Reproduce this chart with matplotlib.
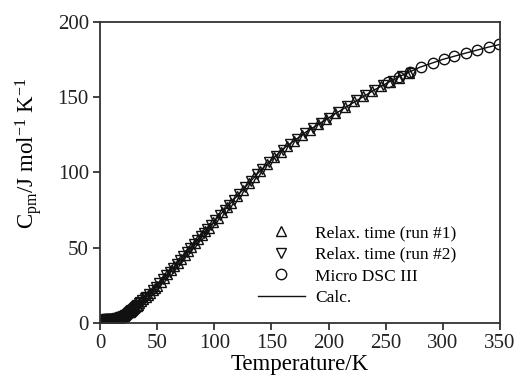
import matplotlib
matplotlib.use("Agg")
import matplotlib.pyplot as plt
from matplotlib.lines import Line2D

# data
run1_T = [2, 3, 4, 5, 6, 7, 8, 9, 10, 11, 12, 13, 14, 15, 16, 17, 18, 19, 20,
          21, 22, 23, 24, 25, 26, 27, 28, 29, 30, 31, 32, 33, 34, 36, 38, 40,
          42, 44, 46, 48, 50, 53, 56, 59, 62, 65, 68, 71, 74, 77, 80, 83, 86,
          89, 92, 95, 99, 103, 107, 111, 115, 120, 125, 130, 135, 140, 146,
          152, 158, 164, 170, 177, 184, 191, 198, 206, 214, 222, 230, 238,
          246, 254, 262, 270]
run1_Cp = [2.0, 2.0, 2.0, 2.0, 2.1, 2.1, 2.2, 2.2, 2.3, 2.3, 2.4, 2.5, 2.6,
           2.8, 3.0, 3.2, 3.5, 3.8, 4.2, 4.6, 5.1, 5.6, 6.1, 6.7, 7.3, 7.9,
           8.5, 9.2, 9.9, 10.6, 11.3, 12.0, 12.7, 14.1, 15.5, 17.0, 18.5,
           20.0, 21.6, 23.0, 24.5, 27.0, 29.6, 32.2, 34.8, 37.4, 40.0, 42.6,
           45.2, 47.9, 50.5, 53.0, 55.6, 58.2, 60.8, 63.3, 66.7, 70.0, 73.4,
           76.7, 80.0, 84.3, 88.6, 92.8, 97.0, 101.0, 105.8, 110.0, 113.9,
           117.6, 121.1, 124.9, 128.6, 132.1, 135.6, 139.6, 143.6, 147.4,
           151.0, 154.3, 157.4, 160.4, 163.3, 166.0]

run2_T = [2, 3, 4, 5, 6, 7, 8, 9, 10, 11.5, 12.5, 13.5, 14.5, 15.5, 16.5,
          17.5, 18.5, 19.5, 20.5, 21.5, 22.5, 23.5, 24.5, 25.5, 26.5, 27.5,
          28.5, 29.5, 30.5, 31.5, 32.5, 34, 35, 37, 39, 40, 43, 46, 49, 52,
          55, 58, 61, 64, 67, 70, 73, 76, 79,
          82, 85, 88, 91, 94, 97, 101, 105, 109, 113, 117, 122, 127, 132, 137,
          142, 148, 154, 160, 166, 172, 179, 186, 193, 200, 208, 216, 224, 232,
          240, 248, 256, 264, 272]
run2_Cp = [2.0, 2.0, 2.0, 2.1, 2.1, 2.1, 2.2, 2.2, 2.3, 2.4, 2.5, 2.6, 2.7,
           2.9, 3.1, 3.4, 3.7, 4.0, 4.4, 4.9, 5.3, 5.8, 6.4, 7.0, 7.6, 8.2,
           8.9, 9.6, 10.3, 11.0, 11.7, 12.7, 13.4, 14.8, 16.2, 17.0, 19.3,
           21.6, 23.8, 26.2, 28.8, 31.4, 34.0, 36.6, 39.2, 41.8, 44.4, 47.1,
           49.7, 52.2, 54.8, 57.4, 60.0, 62.5, 65.0, 68.4, 71.7, 75.1, 78.4,
           81.7, 86.0, 90.3, 94.5, 98.7, 102.5, 107.2, 111.3, 115.1, 118.8,
           122.2, 126.0, 129.6, 133.1, 136.5, 140.6, 144.6, 148.3, 151.8,
           155.1, 158.2, 161.1, 164.0, 166.6]

dsc_T = [252, 262, 271, 281, 291, 301, 310, 320, 330, 340, 349]
dsc_Cp = [160.5, 163.8, 166.8, 170.2, 173.0, 175.4, 177.4, 179.6, 181.6,
          183.6, 185.4]

calc_T = [0, 5, 10, 15, 20, 25, 30, 35, 40, 50, 60, 70, 80, 90, 100, 120,
          140, 160, 180, 200, 220, 240, 260, 280, 300, 320, 340, 350]
calc_Cp = [2.0, 2.0, 2.3, 2.8, 4.2, 6.7, 9.9, 13.4, 17.0, 24.5, 33.0, 41.7,
           50.5, 59.0, 67.5, 84.3, 101.0, 115.6, 126.9, 136.4, 145.8, 155.0,
           163.3, 170.2, 175.4, 179.6, 183.6, 185.4]

plt.rcParams['font.family'] = ['Liberation Serif', 'DejaVu Serif']
plt.rcParams['mathtext.fontset'] = 'custom'
plt.rcParams['mathtext.rm'] = 'Liberation Serif'
plt.rcParams['mathtext.it'] = 'Liberation Serif:italic'

fig = plt.figure(figsize=(5.16, 3.85), dpi=100)
ax = fig.add_axes([0.1938, 0.1623, 0.7752, 0.7793])

mk = dict(ls='none', mfc='none', mec='#111111', mew=1.0, ms=6.5)
ck = dict(ls='none', mfc='none', mec='#111111', mew=1.0, ms=7.5)
ax.plot(calc_T, calc_Cp, '-', color='#111111', lw=1.0)
ax.plot(run1_T, run1_Cp, marker='^', **mk)
ax.plot(run2_T, run2_Cp, marker='v', **mk)
ax.plot(dsc_T, dsc_Cp, marker='o', **ck)

ax.set_xlim(0, 350)
ax.set_ylim(0, 200)
ax.set_xticks([0, 50, 100, 150, 200, 250, 300, 350])
ax.set_yticks([0, 50, 100, 150, 200])
ax.tick_params(direction='out', length=5, width=1.2, labelsize=15,
               colors='#222222', pad=3)
for s in ax.spines.values():
    s.set_linewidth(1.3)
    s.set_color('#333333')

ax.set_xlabel('Temperature/K', fontsize=16.5, labelpad=1)
ax.set_ylabel(r'C$_{\rm pm}$/J mol$^{-1}$ K$^{-1}$', fontsize=16.5)
ax.yaxis.set_label_coords(-0.14, 0.565)

handles = [
    Line2D([], [], marker='^', **mk),
    Line2D([], [], marker='v', **mk),
    Line2D([], [], marker='o', **ck),
    Line2D([], [], color='#111111', lw=1.0),
]
labels = ['Relax. time (run #1)', 'Relax. time (run #2)', 'Micro DSC III',
          'Calc.']
ax.legend(handles, labels, loc='upper left', bbox_to_anchor=(0.395, 0.325),
          frameon=False, fontsize=12.5, handlelength=2.7, handletextpad=0.6,
          labelspacing=0.32, borderpad=0, borderaxespad=0)

fig.savefig('out.png', dpi=100)
